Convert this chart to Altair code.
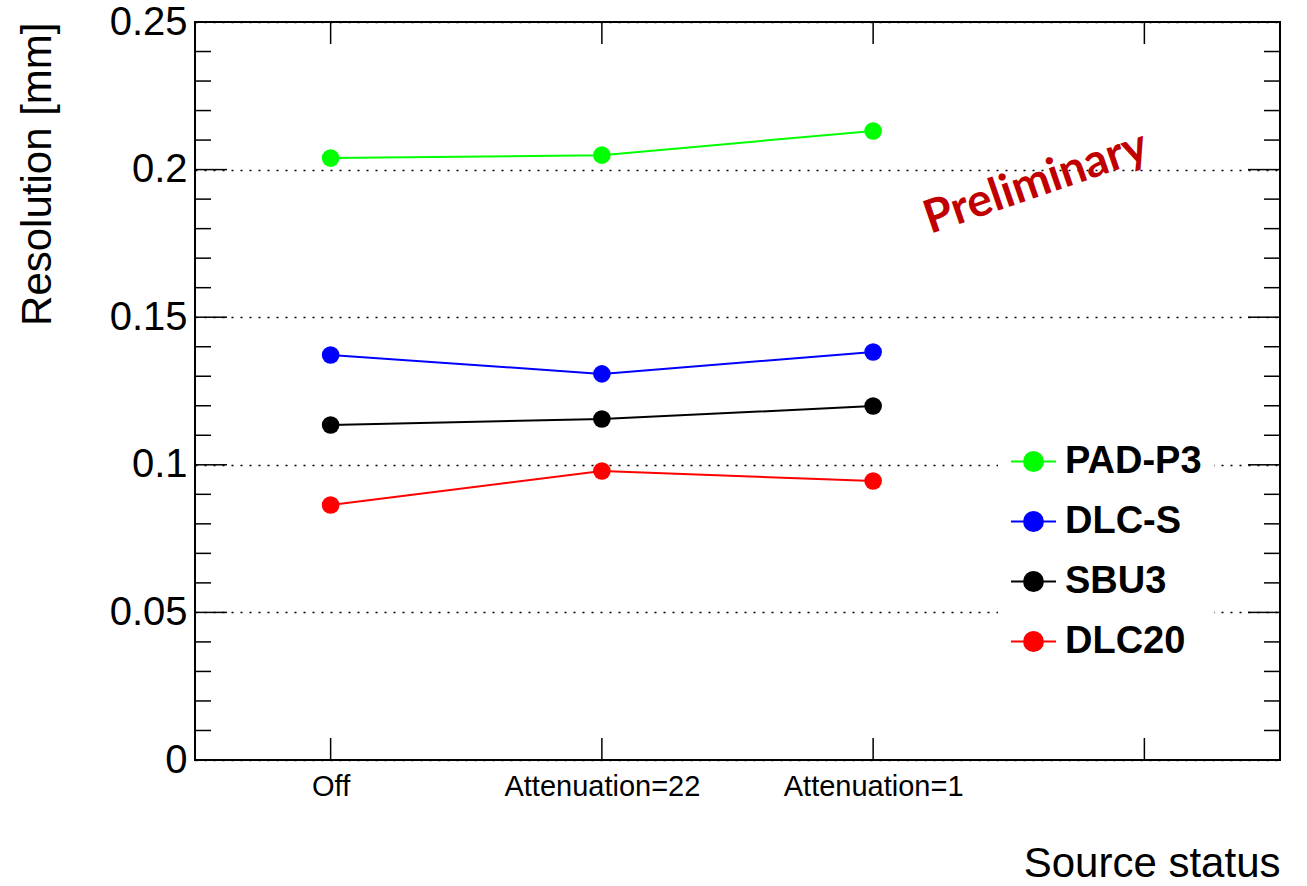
import altair as alt
import pandas as pd

# ---- data ----
categories = ["Off", "Attenuation=22", "Attenuation=1"]
series_names = ["PAD-P3", "DLC-S", "SBU3", "DLC20"]
series_colors = ["#00ff00", "#0000ff", "#000000", "#ff0000"]
pad_p3 = [0.2039, 0.2049, 0.2131]
dlc_s = [0.1372, 0.1308, 0.1382]
sbu3 = [0.1135, 0.1155, 0.1199]
dlc20 = [0.0864, 0.0979, 0.0945]

y_labels = [0, 0.05, 0.1, 0.15, 0.2, 0.25]
y_major_ticks = [0.05, 0.1, 0.15, 0.2]
y_minor_ticks = [0.01, 0.02, 0.03, 0.04, 0.06, 0.07, 0.08, 0.09,
                 0.11, 0.12, 0.13, 0.14, 0.16, 0.17, 0.18, 0.19,
                 0.21, 0.22, 0.23, 0.24]
x_tick_positions = [1, 2, 3, 4]

W, H = 1085, 738
FONT = "Liberation Sans"

rows = []
for name, vals in zip(series_names, [pad_p3, dlc_s, sbu3, dlc20]):
    for i, v in enumerate(vals):
        rows.append({"xi": i + 1, "cat": categories[i], "res": v, "series": name})
df = pd.DataFrame(rows)

label_expr = " : ".join(
    [f"datum.value == {i + 1} ? '{c}'" for i, c in enumerate(categories)]
) + " : ''"

xscale = alt.Scale(domain=[0.5, 4.5], nice=False, zero=False)
yscale = alt.Scale(domain=[0, 0.25], nice=False)
cscale = alt.Scale(domain=series_names, range=series_colors)

legend_symbol = ("M-1,0L1,0M-0.42,0A0.42,0.42,0,1,1,0.42,0"
                 "A0.42,0.42,0,1,1,-0.42,0Z")
NBSP = "\u00a0"
legend = alt.Legend(
    title=None, orient="none", legendX=803, legendY=404,
    fillColor="white", padding=12, symbolType=legend_symbol,
    symbolSize=2025, symbolStrokeWidth=2, labelFont=FONT,
    labelFontSize=38, labelFontWeight="bold", labelColor="black",
    labelOffset=8, rowPadding=17, labelLimit=600,
    labelExpr="datum.label + '" + NBSP * 4 + "'",
)

xaxis = alt.Axis(
    values=x_tick_positions, labelExpr=label_expr, grid=False, domain=False,
    ticks=False, tickSize=0, labelFont=FONT, labelFontSize=29,
    labelColor="black", labelPadding=12, labelLimit=0, labelOverlap=False,
    title="Source status",
    titleFont=FONT, titleFontSize=42, titleFontWeight="normal",
    titleColor="black", titleX=W, titleY=116, titleAlign="right",
    titleBaseline="alphabetic", titleAnchor="end",
)
yaxis = alt.Axis(
    values=y_labels, labelExpr="format(datum.value, '')",
    grid=True, gridDash=[2, 7], gridColor="black", gridWidth=1.5,
    domain=False, ticks=False, tickSize=0, labelFont=FONT,
    labelFontSize=40, labelColor="black", labelPadding=8,
    title="Resolution [mm]", titleFont=FONT, titleFontSize=42,
    titleFontWeight="normal", titleColor="black", titleAngle=270,
    titleX=-178, titleY=0, titleAlign="right", titleBaseline="top",
)

base = alt.Chart(df).encode(
    x=alt.X("xi:Q", scale=xscale, axis=xaxis),
    y=alt.Y("res:Q", scale=yscale, axis=yaxis),
)
lines = base.mark_line(strokeWidth=2).encode(
    stroke=alt.Stroke("series:N", scale=cscale, legend=legend, sort=series_names)
)
points = base.mark_point(filled=True, size=310, opacity=1, strokeWidth=0).encode(
    fill=alt.Fill("series:N", scale=cscale, legend=legend, sort=series_names)
)

major_df = pd.DataFrame({"res": y_major_ticks})
minor_df = pd.DataFrame({"res": y_minor_ticks})
xt_df = pd.DataFrame({"xi": x_tick_positions})


def yticks(d, length):
    left = alt.Chart(d).mark_rule(color="black", strokeWidth=1.5).encode(
        y=alt.Y("res:Q", scale=yscale), x=alt.value(0), x2=alt.value(length))
    right = alt.Chart(d).mark_rule(color="black", strokeWidth=1.5).encode(
        y=alt.Y("res:Q", scale=yscale), x=alt.value(W - length), x2=alt.value(W))
    return left + right


xt_bottom = alt.Chart(xt_df).mark_rule(color="black", strokeWidth=1.5).encode(
    x=alt.X("xi:Q", scale=xscale), y=alt.value(H), y2=alt.value(H - 22))
xt_top = alt.Chart(xt_df).mark_rule(color="black", strokeWidth=1.5).encode(
    x=alt.X("xi:Q", scale=xscale), y=alt.value(0), y2=alt.value(22))

prelim_df = pd.DataFrame({"xi": [3.6], "res": [0.1955], "txt": ["Preliminary"]})
prelim = alt.Chart(prelim_df).mark_text(
    font="Lato", fontSize=46, fontWeight="bold", color="#c00000",
    angle=341, align="center", baseline="middle",
).encode(x=alt.X("xi:Q", scale=xscale), y=alt.Y("res:Q", scale=yscale), text="txt:N")

chart = alt.layer(
    lines, points, yticks(major_df, 32), yticks(minor_df, 16),
    xt_bottom, xt_top, prelim,
).properties(
    width=W, height=H,
    autosize=alt.AutoSizeParams(type="none"),
    padding={"left": 195, "top": 22, "right": 27, "bottom": 126},
    background="white",
).configure_view(stroke="black", strokeWidth=2)

chart.save("out.html", embed_options={"renderer": "svg", "actions": False})
